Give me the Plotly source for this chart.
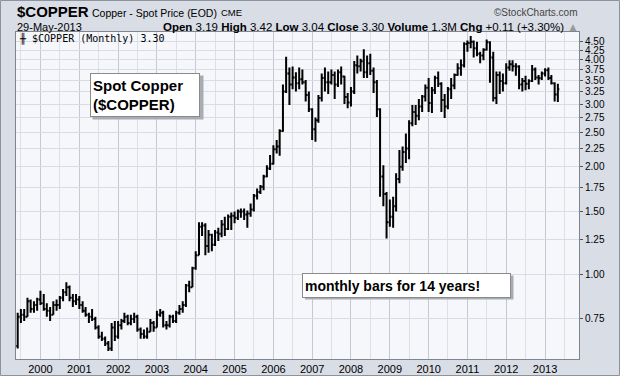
import pandas as pd
import plotly.graph_objects as go

# ---------------- data (monthly, Jun-1999 .. May-2013) ----------------
months = pd.date_range("1999-06-01", "2013-05-01", freq="MS")

opens = [
    0.63, 0.76, 0.77, 0.76, 0.84, 0.80, 0.82,
    0.85, 0.83, 0.80, 0.79, 0.77, 0.82, 0.82, 0.86, 0.89, 0.92, 0.86, 0.84,
    0.85, 0.82, 0.79, 0.77, 0.76, 0.75, 0.71, 0.67, 0.66, 0.64, 0.62, 0.71,
    0.67, 0.72, 0.74, 0.76, 0.73, 0.75, 0.76, 0.70, 0.68, 0.67, 0.69, 0.73,
    0.71, 0.77, 0.78, 0.72, 0.72, 0.76, 0.74, 0.78, 0.80, 0.82, 0.93, 0.92,
    1.04, 1.13, 1.36, 1.37, 1.20, 1.29, 1.21, 1.31, 1.30, 1.38, 1.34, 1.45,
    1.46, 1.44, 1.50, 1.50, 1.47, 1.48, 1.52, 1.66, 1.70, 1.76, 1.88, 1.98,
    2.04, 2.24, 2.28, 2.52, 3.25, 3.65, 3.40, 3.56, 3.43, 3.52, 3.45, 3.18,
    2.90, 2.55, 2.70, 3.12, 3.55, 3.45, 3.45, 3.62, 3.40, 3.68, 3.58, 3.14,
    3.03, 3.25, 3.85, 3.83, 3.95, 3.68, 3.90, 3.72, 3.45, 2.90, 1.88, 1.68,
    1.40, 1.45, 1.55, 1.85, 2.00, 2.20, 2.25, 2.65, 2.85, 2.78, 2.95, 3.15,
    3.33, 3.02, 3.28, 3.55, 3.42, 3.08, 2.95, 3.30, 3.38, 3.62, 3.78, 3.85,
    4.42, 4.45, 4.48, 4.30, 4.15, 4.10, 4.26, 4.47, 4.05, 3.12, 3.62, 3.48,
    3.43, 3.80, 3.88, 3.83, 3.82, 3.40, 3.48, 3.42, 3.48, 3.75, 3.56, 3.54,
    3.65, 3.73, 3.55, 3.43, 3.19,
]
highs = [
    0.78, 0.80, 0.80, 0.86, 0.85, 0.84, 0.86,
    0.90, 0.88, 0.83, 0.81, 0.84, 0.85, 0.87, 0.91, 0.95, 0.93, 0.88, 0.88,
    0.87, 0.84, 0.81, 0.78, 0.80, 0.76, 0.72, 0.69, 0.67, 0.65, 0.73, 0.74,
    0.74, 0.75, 0.78, 0.77, 0.77, 0.78, 0.77, 0.71, 0.70, 0.71, 0.75, 0.74,
    0.79, 0.80, 0.79, 0.74, 0.77, 0.77, 0.79, 0.82, 0.84, 0.94, 0.96, 1.05,
    1.16, 1.40, 1.40, 1.39, 1.33, 1.30, 1.33, 1.35, 1.42, 1.45, 1.47, 1.49,
    1.50, 1.52, 1.53, 1.53, 1.51, 1.58, 1.68, 1.74, 1.78, 1.90, 2.02, 2.16,
    2.30, 2.38, 2.55, 3.40, 4.07, 3.80, 3.82, 3.68, 3.80, 3.75, 3.50, 3.25,
    2.92, 2.75, 3.18, 3.65, 3.80, 3.70, 3.75, 3.70, 3.75, 3.82, 3.60, 3.22,
    3.35, 3.96, 4.10, 4.02, 4.27, 4.10, 4.15, 3.80, 3.50, 2.92, 2.02, 1.70,
    1.62, 1.65, 1.92, 2.23, 2.28, 2.48, 2.70, 2.98, 2.98, 3.10, 3.18, 3.40,
    3.55, 3.35, 3.60, 3.70, 3.45, 3.20, 3.35, 3.55, 3.65, 3.90, 4.00, 4.47,
    4.52, 4.65, 4.52, 4.48, 4.20, 4.30, 4.55, 4.50, 4.20, 3.70, 3.70, 3.65,
    3.90, 3.98, 3.98, 3.90, 3.85, 3.55, 3.60, 3.52, 3.86, 3.80, 3.62, 3.70,
    3.78, 3.80, 3.62, 3.45, 3.42,
]
lows = [
    0.62, 0.73, 0.74, 0.76, 0.78, 0.78, 0.79,
    0.82, 0.79, 0.76, 0.74, 0.77, 0.79, 0.80, 0.84, 0.87, 0.84, 0.81, 0.82,
    0.80, 0.78, 0.76, 0.73, 0.74, 0.70, 0.66, 0.65, 0.63, 0.61, 0.61, 0.65,
    0.66, 0.70, 0.73, 0.72, 0.72, 0.73, 0.69, 0.66, 0.66, 0.66, 0.69, 0.69,
    0.71, 0.76, 0.71, 0.70, 0.71, 0.73, 0.73, 0.77, 0.78, 0.81, 0.89, 0.92,
    1.03, 1.13, 1.28, 1.13, 1.15, 1.16, 1.20, 1.24, 1.27, 1.28, 1.33, 1.33,
    1.39, 1.42, 1.44, 1.42, 1.35, 1.45, 1.50, 1.62, 1.68, 1.72, 1.87, 1.96,
    2.03, 2.18, 2.15, 2.51, 3.22, 2.98, 3.30, 3.25, 3.30, 3.40, 3.05, 2.85,
    2.38, 2.35, 2.66, 3.05, 3.25, 3.20, 3.40, 3.10, 3.35, 3.40, 3.00, 2.92,
    2.95, 3.20, 3.65, 3.70, 3.55, 3.55, 3.62, 3.22, 2.76, 1.65, 1.55, 1.26,
    1.36, 1.35, 1.50, 1.80, 1.95, 2.05, 2.10, 2.60, 2.62, 2.70, 2.85, 3.05,
    2.85, 2.83, 3.20, 3.35, 2.85, 2.74, 2.90, 3.10, 3.30, 3.60, 3.60, 3.80,
    4.20, 4.30, 4.05, 4.08, 3.90, 3.98, 4.24, 3.44, 3.05, 3.00, 3.20, 3.25,
    3.40, 3.72, 3.70, 3.60, 3.30, 3.25, 3.28, 3.30, 3.46, 3.50, 3.40, 3.50,
    3.58, 3.50, 3.40, 3.05, 3.04,
]
closes = [
    0.76, 0.77, 0.76, 0.84, 0.80, 0.82, 0.85,
    0.83, 0.80, 0.79, 0.77, 0.82, 0.82, 0.86, 0.89, 0.92, 0.86, 0.84, 0.85,
    0.82, 0.79, 0.77, 0.76, 0.75, 0.71, 0.67, 0.66, 0.64, 0.62, 0.71, 0.67,
    0.72, 0.74, 0.76, 0.73, 0.75, 0.76, 0.70, 0.68, 0.67, 0.69, 0.73, 0.71,
    0.77, 0.78, 0.72, 0.72, 0.76, 0.74, 0.78, 0.80, 0.82, 0.93, 0.92, 1.04,
    1.13, 1.36, 1.37, 1.20, 1.29, 1.21, 1.31, 1.30, 1.38, 1.34, 1.45, 1.46,
    1.44, 1.50, 1.50, 1.47, 1.48, 1.52, 1.66, 1.70, 1.76, 1.88, 1.98, 2.04,
    2.24, 2.28, 2.52, 3.25, 3.65, 3.40, 3.56, 3.43, 3.52, 3.45, 3.18, 2.90,
    2.55, 2.70, 3.12, 3.55, 3.45, 3.45, 3.62, 3.40, 3.68, 3.58, 3.14, 3.03,
    3.25, 3.85, 3.83, 3.95, 3.68, 3.90, 3.72, 3.45, 2.90, 1.88, 1.68, 1.40,
    1.45, 1.55, 1.85, 2.00, 2.20, 2.25, 2.65, 2.85, 2.78, 2.95, 3.15, 3.33,
    3.02, 3.28, 3.55, 3.42, 3.08, 2.95, 3.30, 3.38, 3.62, 3.78, 3.85, 4.42,
    4.45, 4.48, 4.30, 4.15, 4.10, 4.26, 4.47, 4.05, 3.12, 3.62, 3.48, 3.43,
    3.80, 3.88, 3.83, 3.82, 3.40, 3.48, 3.42, 3.48, 3.75, 3.56, 3.54, 3.65,
    3.73, 3.55, 3.43, 3.19, 3.30,
]

price_ticks = [0.75, 1.00, 1.25, 1.50, 1.75, 2.00, 2.25, 2.50, 2.75,
               3.00, 3.25, 3.50, 3.75, 4.00, 4.25, 4.50]
price_tick_labels = ["0.75", "1.00", "1.25", "1.50", "1.75", "2.00", "2.25", "2.50", "2.75",
                     "3.00", "3.25", "3.50", "3.75", "4.00", "4.25", "4.50"]

# ---------------- layout helpers ----------------
W, H = 620, 376
ML, MR, MT, MB = 16, 41, 32, 17
PW, PH = W - ML - MR, H - MT - MB


def px(x):
    return (x - ML) / PW


def py(y):
    return (H - MB - y) / PH


FONT = "Liberation Sans, Arial, sans-serif"

fig = go.Figure()
fig.add_trace(go.Ohlc(
    x=months, open=opens, high=highs, low=lows, close=closes,
    increasing=dict(line=dict(color="#000000", width=2)),
    decreasing=dict(line=dict(color="#000000", width=2)),
    tickwidth=0.5, showlegend=False, hoverinfo="skip",
))


def note(x, y, text, **kw):
    d = dict(x=px(x), y=py(y), xref="paper", yref="paper", text=text, showarrow=False)
    d.update(kw)
    return d


annotations = [
    note(15, 11.5, "<b>$COPPER</b>", font=dict(family=FONT, size=15, color="#000"),
         xanchor="left", yanchor="middle"),
    note(90, 12.5, "Copper - Spot Price (EOD)", font=dict(family=FONT, size=10.5, color="#000"),
         xanchor="left", yanchor="middle"),
    note(219, 13, "CME", font=dict(family=FONT, size=9.5, color="#000"),
         xanchor="left", yanchor="middle"),
    note(580, 13, "\u00a9StockCharts.com", font=dict(family=FONT, size=10, color="#444"),
         xanchor="right", yanchor="middle"),
    note(15, 27.5, "29-May-2013", font=dict(family=FONT, size=11, color="#000"),
         xanchor="left", yanchor="middle"),
    note(581, 27.5,
         "<b>Open</b> 3.19 <b>High</b> 3.42 <b>Low</b> 3.04 <b>Close</b> 3.30 "
         "<b>Volume</b> 1.3M <b>Chg</b> +0.11 (+3.30%) <span style='color:#999'>\u25b2</span>",
         font=dict(family=FONT, size=11.5, color="#000"),
         xanchor="right", yanchor="middle"),
    note(18, 38, "\u256b $COPPER (Monthly) 3.30",
         font=dict(family="DejaVu Sans Mono, monospace", size=10, color="#000"),
         xanchor="left", yanchor="middle", borderpad=0),
    note(89.5, 72.5, "<b>Spot Copper<br>($COPPER)</b>",
         font=dict(family=FONT, size=15, color="#000"), align="left",
         width=104, height=38, xanchor="left", yanchor="top",
         bgcolor="#ffffff", bordercolor="#8a8a8a", borderwidth=1, borderpad=2),
    note(302, 272.5, "<b>monthly bars for 14 years!</b>",
         font=dict(family=FONT, size=14, color="#000"), align="left",
         width=203, height=19, xanchor="left", yanchor="top",
         bgcolor="#ffffff", bordercolor="#8a8a8a", borderwidth=1, borderpad=2),
]

shapes = [
    # drop shadows of the two text boxes
    dict(type="rect", xref="paper", yref="paper", x0=px(92.5), x1=px(203.5), y0=py(119.5), y1=py(75.5),
         fillcolor="#a8acb4", line=dict(width=0), layer="above"),
    dict(type="rect", xref="paper", yref="paper", x0=px(305), x1=px(513.5), y0=py(299.5), y1=py(275.5),
         fillcolor="#a8acb4", line=dict(width=0), layer="above"),
    # outer frame of the image
    dict(type="rect", xref="paper", yref="paper", x0=px(0.5), x1=px(619.5), y0=py(375.5), y1=py(0.5),
         fillcolor="rgba(0,0,0,0)", line=dict(width=1, color="#8d929c"), layer="below"),
]

fig.update_layout(
    width=W, height=H,
    margin=dict(l=ML, r=MR, t=MT, b=MB, pad=0, autoexpand=False),
    paper_bgcolor="#d9dde6",
    plot_bgcolor="#f6f7fb",
    font=dict(family=FONT, size=11, color="#000"),
    showlegend=False,
    annotations=annotations,
    shapes=shapes,
    xaxis=dict(
        type="date", range=["1999-05-16", "2013-11-16"],
        rangeslider=dict(visible=False), automargin=False,
        tick0="2000-01-01", dtick="M12", tickformat="%Y",
        showgrid=True, gridcolor="#c4c8d3", gridwidth=1,
        minor=dict(dtick="M6", tick0="2000-01-01", showgrid=True, gridcolor="#dde0e8", gridwidth=1),
        showline=True, linecolor="#7f848e", linewidth=1, mirror=True,
        ticks="", tickfont=dict(family=FONT, size=11, color="#000"),
        zeroline=False, fixedrange=True,
    ),
    yaxis=dict(
        type="log", side="right", automargin=False,
        range=[-0.2373, 0.6789],
        tickvals=price_ticks, ticktext=price_tick_labels,
        showgrid=True, gridcolor="#d9dce5", gridwidth=1,
        showline=True, linecolor="#7f848e", linewidth=1, mirror=True,
        ticks="outside", ticklen=3, tickcolor="#555", tickwidth=1,
        tickfont=dict(family=FONT, size=10, color="#000"),
        zeroline=False, fixedrange=True,
    ),
)

fig.write_html(
    "out.html",
    config={"displayModeBar": False},
    post_script="document.body.style.margin='0';document.body.style.overflow='hidden';",
)
